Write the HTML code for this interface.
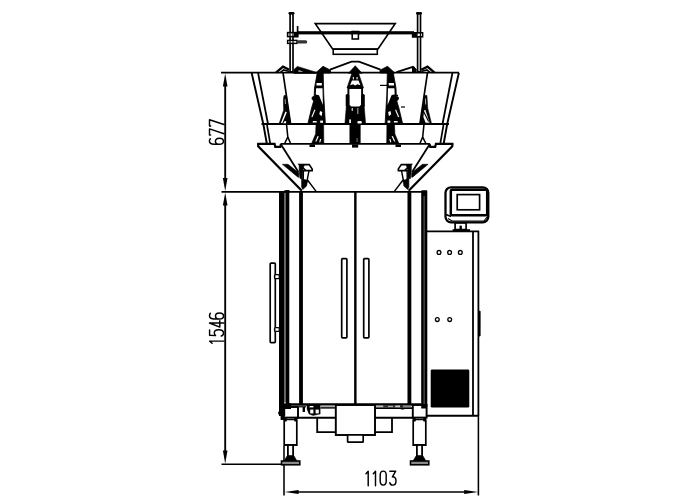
<!DOCTYPE html>
<html><head><meta charset="utf-8"><title>drawing</title>
<style>
html,body{margin:0;padding:0;background:#fff;}
body{width:700px;height:500px;overflow:hidden;font-family:"Liberation Sans",sans-serif;}
svg{display:block}
</style></head><body>
<svg width="700" height="500" viewBox="0 0 700 500">
<rect x="0" y="0" width="700" height="500" fill="#fff"/>
<g stroke="#000" fill="none" stroke-linecap="butt" stroke-linejoin="miter">
<g id="dims">
<line x1="221" y1="72.7" x2="459" y2="72.7" stroke-width="1.8" />
<line x1="221.5" y1="191.9" x2="426.5" y2="191.9" stroke-width="1.92" />
<line x1="221.5" y1="464.3" x2="283" y2="464.3" stroke-width="1.5" />
<line x1="225.2" y1="86" x2="225.2" y2="178.5" stroke-width="1.86" />
<line x1="225.2" y1="205" x2="225.2" y2="451" stroke-width="1.86" />
<path d="M225.2,73.4 L222.89999999999998,86.5 L227.5,86.5 Z" fill="#000" stroke="none"/>
<path d="M225.2,191.3 L222.89999999999998,178.0 L227.5,178.0 Z" fill="#000" stroke="none"/>
<path d="M225.2,192.5 L222.89999999999998,205.5 L227.5,205.5 Z" fill="#000" stroke="none"/>
<path d="M225.2,463.8 L222.89999999999998,450.5 L227.5,450.5 Z" fill="#000" stroke="none"/>
<line x1="284" y1="446" x2="284" y2="495.5" stroke-width="1.56" />
<line x1="478.4" y1="416" x2="478.4" y2="495.5" stroke-width="1.56" />
<line x1="297.5" y1="492" x2="465" y2="492" stroke-width="1.38" />
<path d="M284.6,492 L298.6,490.0 L298.6,494.0 Z" fill="#000" stroke="none"/>
<path d="M478.2,492 L464.2,490.0 L464.2,494.0 Z" fill="#000" stroke="none"/>
</g>
<g id="text">
<path d="M0.4,3.2 L2.6,0.8 L2.6,15.2" transform="translate(365.6,470.5)" stroke-width="1.45" stroke-linejoin="round" stroke-linecap="round"/>
<path d="M0.4,3.2 L2.6,0.8 L2.6,15.2" transform="translate(372.9,470.5)" stroke-width="1.45" stroke-linejoin="round" stroke-linecap="round"/>
<path d="M0.6,4.6 C0.6,1.6 1.8,0.6 3.6,0.6 C5.4,0.6 6.6,1.6 6.6,4.6 L6.6,10.6 C6.6,13.6 5.4,14.6 3.6,14.6 C1.8,14.6 0.6,13.6 0.6,10.6 Z" transform="translate(379.6,470.5)" stroke-width="1.45" stroke-linejoin="round" stroke-linecap="round"/>
<path d="M0.5,0.7 L6.3,0.7 L3,6.3 C5.4,6.3 6.6,7.9 6.6,10.4 C6.6,13.2 5.4,14.6 3.4,14.6 C1.8,14.6 0.8,13.8 0.4,12.3" transform="translate(389.4,470.5)" stroke-width="1.45" stroke-linejoin="round" stroke-linecap="round"/>
<path d="M6.2,1.5 C5.5,0.9 4.7,0.6 3.8,0.6 C1.7,0.6 0.6,2.2 0.6,5.4 L0.6,10.6 C0.6,13.2 1.7,14.6 3.6,14.6 C5.5,14.6 6.6,13.3 6.6,10.6 C6.6,8 5.5,6.6 3.6,6.6 C2.1,6.6 1,7.5 0.6,9" transform="translate(208.8,144.9) rotate(-90)" stroke-width="1.45" stroke-linejoin="round" stroke-linecap="round"/>
<path d="M0.6,1.9 L0.6,0.7 L6.8,0.7 L2.0,15.2" transform="translate(208.8,135.7) rotate(-90)" stroke-width="1.45" stroke-linejoin="round" stroke-linecap="round"/>
<path d="M0.6,1.9 L0.6,0.7 L6.8,0.7 L2.0,15.2" transform="translate(208.8,126.5) rotate(-90)" stroke-width="1.45" stroke-linejoin="round" stroke-linecap="round"/>
<path d="M0.4,3.2 L2.6,0.8 L2.6,15.2" transform="translate(208.9,343.7) rotate(-90)" stroke-width="1.45" stroke-linejoin="round" stroke-linecap="round"/>
<path d="M6.4,0.7 L1.2,0.7 L0.8,6.6 C1.6,5.8 2.5,5.4 3.6,5.4 C5.6,5.4 6.7,7.1 6.7,9.9 C6.7,13 5.5,14.6 3.4,14.6 C1.8,14.6 0.8,13.8 0.4,12.4" transform="translate(208.9,336.4) rotate(-90)" stroke-width="1.45" stroke-linejoin="round" stroke-linecap="round"/>
<path d="M4.5,15.2 L4.5,0.6 L0.4,10.9 L6.8,10.9" transform="translate(208.9,327.5) rotate(-90)" stroke-width="1.45" stroke-linejoin="round" stroke-linecap="round"/>
<path d="M6.2,1.5 C5.5,0.9 4.7,0.6 3.8,0.6 C1.7,0.6 0.6,2.2 0.6,5.4 L0.6,10.6 C0.6,13.2 1.7,14.6 3.6,14.6 C5.5,14.6 6.6,13.3 6.6,10.6 C6.6,8 5.5,6.6 3.6,6.6 C2.1,6.6 1,7.5 0.6,9" transform="translate(208.9,319.5) rotate(-90)" stroke-width="1.45" stroke-linejoin="round" stroke-linecap="round"/>
</g>
<g id="topframe">
<rect x="298" y="31.2" width="116" height="3.2" rx="0" stroke-width="0" fill="#000" stroke="none"/>
<path d="M315.3,23.7 L395.2,23.7 L378,49 L332.6,49 Z" stroke-width="1.68" fill="none" />
<rect x="333.2" y="49.2" width="44.1" height="5.1" rx="0" stroke-width="1.56" fill="none" />
<rect x="352.2" y="31.5" width="6.2" height="7.5" rx="0" stroke-width="1.56" fill="#fff" />
<rect x="350.8" y="31.2" width="9.0" height="3.2" rx="0" stroke-width="0" fill="#000" stroke="none"/>
<rect x="290.09999999999997" y="13.5" width="2.9" height="58.3" rx="0" stroke-width="1.68" fill="#fff" />
<rect x="288.5" y="11.9" width="6.0" height="2.7" rx="1.3" stroke-width="0" fill="#000" stroke="none"/>
<rect x="417.59999999999997" y="13.5" width="2.9" height="58.3" rx="0" stroke-width="1.68" fill="#fff" />
<rect x="416.0" y="11.9" width="6.0" height="2.7" rx="1.3" stroke-width="0" fill="#000" stroke="none"/>
<rect x="287.6" y="32.6" width="10.0" height="4.0" rx="0" stroke-width="1.56" fill="#fff" />
<line x1="290" y1="33" x2="290" y2="36.5" stroke-width="1.2" />
<line x1="293" y1="33" x2="293" y2="36.5" stroke-width="1.2" />
<line x1="297.6" y1="26" x2="297.6" y2="33" stroke-width="1.68" />
<rect x="294" y="32" width="4.4" height="5.2" rx="0" stroke-width="0" fill="#000" stroke="none"/>
<rect x="287.6" y="40.4" width="9.4" height="3.0" rx="0" stroke-width="1.44" fill="#fff" />
<line x1="290" y1="40.4" x2="290" y2="43.4" stroke-width="1.2" />
<line x1="293" y1="40.4" x2="293" y2="43.4" stroke-width="1.2" />
<rect x="297" y="40.2" width="10.2" height="3.4" rx="1.6" stroke-width="0" fill="#333" stroke="none"/>
<rect x="412.6" y="32.8" width="10.0" height="4.0" rx="0" stroke-width="1.56" fill="#fff" />
<line x1="417" y1="33" x2="417" y2="36.8" stroke-width="1.2" />
<line x1="420.4" y1="33" x2="420.4" y2="36.8" stroke-width="1.2" />
<rect x="412" y="32.2" width="4.9" height="5.2" rx="0" stroke-width="0" fill="#000" stroke="none"/>
</g>
<g id="head">
<path d="M330,69.6 L351.5,61.6 L359,61.6 L380.5,69.6" stroke-width="1.8" fill="none" />
<path d="M251.6,72.7 L263.3,124 L266.8,143.5" stroke-width="1.92" fill="none" />
<path d="M458.9,72.7 L447.2,124 L443.7,143.5" stroke-width="1.92" fill="none" />
<path d="M258,72.7 L268,124" stroke-width="1.8" fill="none" />
<path d="M452.5,72.7 L442.5,124" stroke-width="1.8" fill="none" />
<path d="M267,125 L270.2,143.5" stroke-width="1.68" fill="none" />
<path d="M443.5,125 L440.3,143.5" stroke-width="1.68" fill="none" />
<line x1="261.5" y1="124.1" x2="449.0" y2="124.1" stroke-width="2.04" />
<line x1="280.6" y1="143.9" x2="429.9" y2="143.9" stroke-width="1.92" />
<path d="M283,72.7 L290.6,124" stroke-width="1.68" fill="none" />
<path d="M427.5,72.7 L419.9,124" stroke-width="1.68" fill="none" />
<path d="M286.6,125 L287.8,137 L284.6,143.5" stroke-width="1.56" fill="none" />
<path d="M423.9,125 L422.7,137 L425.9,143.5" stroke-width="1.56" fill="none" />
<path d="M287.8,137 L290.6,143.5" stroke-width="1.56" fill="none" />
<path d="M422.7,137 L419.9,143.5" stroke-width="1.56" fill="none" />
<path d="M284,95.6 L286.5,95.6 L287.8,106 L290.6,124 L279,124 L283.7,110 L283.4,100 Z" stroke-width="0.6" fill="#000" />
<path d="M285.4,111.5 L286.8,112.2 L282.4,123 L280.9,123 Z" stroke-width="0" fill="#fff" stroke="none"/>
<path d="M284.2,121.4 L286.2,121 L286,123.2 L283.4,123.2 Z" stroke-width="0" fill="#fff" stroke="none"/>
<path d="M284.6,99 L285.6,99 L286,104 L285,104 Z" stroke-width="0" fill="#999" stroke="none"/>
<path d="M424.3,95.4 L426.9,95.4 L427.7,108 L431.6,124 L420.2,124 L422.4,108 L423.8,102 Z" stroke-width="0.6" fill="#000" />
<path d="M424.1,110.4 L425.3,109.8 L429.6,122.8 L425.6,122.8 L423.4,117 Z" stroke-width="0" fill="#fff" stroke="none"/>
<path d="M425,98.5 L426,98.5 L426.2,104.5 L425.1,104.5 Z" stroke-width="0" fill="#aaa" stroke="none"/>
<line x1="423.6" y1="111.5" x2="428.6" y2="121.5" stroke-width="1.2" />
</g>
<g id="mechs">
<path d="M276,72.6 L283,66.6 L289.3,69.8" stroke-width="2.4" fill="none" />
<path d="M434.5,72.6 L427.5,66.6 L421.2,69.8" stroke-width="2.4" fill="none" />
<path d="M280.5,72.4 L283.6,69.9 L289.3,71.4" stroke-width="1.56" fill="none" />
<path d="M430.0,72.4 L426.9,69.9 L421.2,71.4" stroke-width="1.56" fill="none" />
<path d="M294,69.6 L297.3,66.4 L316,72.2 L316,73.4 L294,73.4 Z" stroke-width="0.6" fill="#000" />
<path d="M298.2,71.6 L298.8,70.2 L303.5,71.8 Z" stroke-width="0" fill="#fff" stroke="none"/>
<path d="M396.5,72.2 L413,66.8 L416,70.5" stroke-width="1.92" fill="none" />
<path d="M412,67.4 L414,66.6 L416.6,69.6 L416.6,72.6 L412,72.6 Z" stroke-width="0" fill="#000" stroke="none"/>
<path d="M315.6,73 L323,66.3 L330.5,70.2 L330.5,73 Z" stroke-width="0.8" fill="#000" />
<path d="M394.9,73 L387.5,66.3 L380.0,70.2 L380.0,73 Z" stroke-width="0.8" fill="#000" />
<path d="M317.2,73 L323.2,73 L323.7,94 L325.4,124 L307.8,124 L311.6,108 L313.7,101 L312.1,99.2 L312.1,97.2 L314.2,96.2 L314.5,88 Z" stroke-width="0.8" fill="#000" />
<path d="M393.3,73 L387.3,73 L386.8,94 L385.1,124 L402.7,124 L398.9,108 L396.8,101 L398.4,99.2 L398.4,97.2 L396.3,96.2 L396.0,88 Z" stroke-width="0.8" fill="#000" />
<path d="M316.6,83.1 L321.8,83.1 L321.8,85.4 L316.4,85.4 Z" stroke-width="0" fill="#fff" stroke="none"/>
<path d="M393.9,83.1 L388.7,83.1 L388.7,85.4 L394.1,85.4 Z" stroke-width="0" fill="#fff" stroke="none"/>
<path d="M316.1,88.2 L322.5,88.2 L322.9,105 L319,95.2 L315.8,94.6 Z" stroke-width="0" fill="#fff" stroke="none"/>
<path d="M394.4,88.2 L388.0,88.2 L387.6,105 L391.5,95.2 L394.7,94.6 Z" stroke-width="0" fill="#fff" stroke="none"/>
<path d="M314.4,109.6 L315.4,110.1 L312.4,117.2 L311.4,116.7 Z" stroke-width="0" fill="#fff" stroke="none"/>
<path d="M396.1,109.6 L395.1,110.1 L398.1,117.2 L399.1,116.7 Z" stroke-width="0" fill="#fff" stroke="none"/>
<path d="M320,111 L322.3,112 L321.6,116.2 L319.3,114.2 Z" stroke-width="0" fill="#fff" stroke="none"/>
<path d="M390.5,111 L388.2,112 L388.9,116.2 L391.2,114.2 Z" stroke-width="0" fill="#fff" stroke="none"/>
<path d="M313,121 L316.6,121 L316.6,122.6 L312.6,122.6 Z" stroke-width="0" fill="#fff" stroke="none"/>
<path d="M397.5,121 L393.9,121 L393.9,122.6 L397.9,122.6 Z" stroke-width="0" fill="#fff" stroke="none"/>
<path d="M320.2,120.6 L323,120.6 L323,122.8 L320.2,122.8 Z" stroke-width="0" fill="#fff" stroke="none"/>
<path d="M390.3,120.6 L387.5,120.6 L387.5,122.8 L390.3,122.8 Z" stroke-width="0" fill="#fff" stroke="none"/>
<path d="M316,125 L323.6,125 L323.8,143 L311.8,143 L315.6,134 Z" stroke-width="0.6" fill="#000" />
<path d="M394.5,125 L386.9,125 L386.7,143 L398.7,143 L394.9,134 Z" stroke-width="0.6" fill="#000" />
<path d="M317.6,136 L318.8,136.4 L316.4,141.6 L315.2,141.4 Z" stroke-width="0" fill="#fff" stroke="none"/>
<path d="M392.9,136 L391.7,136.4 L394.1,141.6 L395.3,141.4 Z" stroke-width="0" fill="#fff" stroke="none"/>
<path d="M320,139 L321.2,139 L320.4,142.2 L319.2,142.2 Z" stroke-width="0" fill="#fff" stroke="none"/>
<path d="M390.5,139 L389.3,139 L390.1,142.2 L391.3,142.2 Z" stroke-width="0" fill="#fff" stroke="none"/>
<rect x="309.5" y="144.4" width="5.5" height="2.6" rx="0" stroke-width="0" fill="#000" stroke="none"/>
<rect x="395.5" y="144.4" width="5.5" height="2.6" rx="0" stroke-width="0" fill="#000" stroke="none"/>
<line x1="380" y1="85.4" x2="389" y2="85.4" stroke-width="1.2" />
<line x1="401" y1="107" x2="405" y2="107" stroke-width="1.2" />
<line x1="392.5" y1="95.5" x2="398" y2="95.5" stroke-width="1.44" />
<path d="M348.4,73.3 L355.25,65.7 L362.1,73.3 Z" stroke-width="0.6" fill="#000" />
<path d="M352,73 L358.5,73 L363.5,88 L347,88 Z" stroke-width="0.6" fill="#000" />
<rect x="352.8" y="77" width="1.2" height="2.4" rx="0" stroke-width="0" fill="#ddd" stroke="none"/>
<rect x="356.5" y="77" width="1.2" height="2.4" rx="0" stroke-width="0" fill="#ddd" stroke="none"/>
<path d="M350.1,85.3 L352,80.6 L358.5,80.6 L360.4,85.3 L357.4,84.2 L355.25,85.5 L353.1,84.2 Z" stroke-width="0" fill="#fff" stroke="none"/>
<rect x="348.4" y="88" width="13.7" height="19" rx="0" stroke-width="1.92" fill="#fff" />
<rect x="345.7" y="94" width="3.7" height="13" rx="1.5" stroke-width="0" fill="#000" stroke="none"/>
<rect x="361.1" y="94" width="3.7" height="13" rx="1.5" stroke-width="0" fill="#000" stroke="none"/>
<path d="M346.4,105.5 L364.1,105.5 L365.6,124 L344.9,124 Z" stroke-width="0.6" fill="#000" />
<rect x="350.4" y="103" width="9.7" height="3.4" rx="1.2" stroke-width="0" fill="#fff" stroke="none"/>
<rect x="351.6" y="108" width="1.4" height="3" rx="0" stroke-width="0" fill="#bbb" stroke="none"/>
<rect x="357.2" y="108" width="1.2" height="6" rx="0" stroke-width="0" fill="#999" stroke="none"/>
<rect x="349.2" y="119.4" width="1.8" height="3.6" rx="0" stroke-width="0" fill="#eee" stroke="none"/>
<rect x="357.4" y="121" width="4.4" height="2.6" rx="1.2" stroke-width="0" fill="#fff" stroke="none"/>
<rect x="349.5" y="125" width="11.1" height="19" rx="0" stroke-width="0" fill="#000" stroke="none"/>
<rect x="356.6" y="138" width="1.0" height="4" rx="0" stroke-width="0" fill="#777" stroke="none"/>
<rect x="352" y="144.4" width="6.2" height="3.2" rx="0" stroke-width="0" fill="#000" stroke="none"/>
</g>
<g id="cone">
<path d="M258.2,143.2 L258.2,146.4 L301.8,190.8" stroke-width="2.22" fill="none" />
<path d="M452.3,143.2 L452.3,146.4 L408.7,190.8" stroke-width="2.22" fill="none" />
<path d="M281,144.6 L298.4,172" stroke-width="1.8" fill="none" />
<path d="M429.5,144.6 L412.1,172" stroke-width="1.8" fill="none" />
<path d="M307.5,180 L316.3,191.6" stroke-width="1.44" fill="none" />
<path d="M403.0,180 L394.2,191.6" stroke-width="1.44" fill="none" />
<path d="M257.2,143.9 L274.6,143.9 L275.3,146.9 L280.3,146.9 L280.9,143.9" stroke-width="2.16" fill="none" />
<path d="M453.3,143.9 L435.9,143.9 L435.2,146.9 L430.2,146.9 L429.6,143.9" stroke-width="2.16" fill="none" />
<path d="M282.4,164.3 L288,164.3 L298.8,172.8 L298.8,177.2 L298,177.2 Z" stroke-width="0.6" fill="#000" />
<path d="M428.1,164.3 L422.5,164.3 L411.7,172.8 L411.7,177.2 L412.5,177.2 Z" stroke-width="0.6" fill="#000" />
<path d="M299.4,164.6 L309.2,164.6 L312.2,169 L312.2,170.6 L306,170.6 Z" stroke-width="1.56" fill="#fff" />
<path d="M411.1,164.6 L401.3,164.6 L398.3,169 L398.3,170.6 L404.5,170.6 Z" stroke-width="1.56" fill="#fff" />
<path d="M299.2,164.4 L304.6,164.4 L303,168.5 L302.4,178.5 L300,178.5 L299.2,170 Z" stroke-width="0.6" fill="#000" />
<path d="M411.3,164.4 L405.9,164.4 L407.5,168.5 L408.1,178.5 L410.5,178.5 L411.3,170 Z" stroke-width="0.6" fill="#000" />
<path d="M306.4,166.4 L309,166.4 L310.6,168.8 L307,168.8 L305.4,167.6 Z" stroke-width="0" fill="#fff" stroke="none"/>
<path d="M404.1,166.4 L401.5,166.4 L399.9,168.8 L403.5,168.8 L405.1,167.6 Z" stroke-width="0" fill="#fff" stroke="none"/>
<path d="M303.4,170.8 L309,170.8 L307,181 L303.2,180.6 Z" stroke-width="1.44" fill="#fff" />
<path d="M407.1,170.8 L401.5,170.8 L403.5,181 L407.3,180.6 Z" stroke-width="1.44" fill="#fff" />
<path d="M301.6,178.6 L307.6,180.6 L306.6,186 L302.8,189.4 L301.6,187 Z" stroke-width="0.6" fill="#000" />
<path d="M408.9,178.6 L402.9,180.6 L403.9,186 L407.7,189.4 L408.9,187 Z" stroke-width="0.6" fill="#000" />
</g>
<g id="cabinet">
<rect x="279" y="192" width="5.1" height="222" rx="0" stroke-width="0" fill="#000" stroke="none"/>
<rect x="284.1" y="192" width="1.7" height="210.5" rx="0" stroke-width="0" fill="#5a5a5a" stroke="none"/>
<rect x="285.8" y="190.2" width="3.5" height="215.3" rx="0" stroke-width="0" fill="#000" stroke="none"/>
<rect x="284" y="190.2" width="5.6" height="2.8" rx="0.8" stroke-width="0" fill="#000" stroke="none"/>
<line x1="301" y1="191" x2="301" y2="405" stroke-width="3.84" />
<line x1="409.4" y1="191" x2="409.4" y2="405" stroke-width="3.84" />
<line x1="355.35" y1="192" x2="355.35" y2="404" stroke-width="2.46" />
<rect x="421.2" y="190.2" width="6.1" height="216.8" rx="0.8" stroke-width="0" fill="#000" stroke="none"/>
<rect x="423.6" y="196" width="1.0" height="208" rx="0" stroke-width="0" fill="#666" stroke="none"/>
<rect x="341.7" y="258.7" width="5.2" height="79.1" rx="0.9" stroke-width="1.68" fill="#fff" />
<rect x="363.7" y="258.7" width="5.2" height="79.1" rx="0.9" stroke-width="1.68" fill="#fff" />
<rect x="270.2" y="263.2" width="5.1" height="79.4" rx="0.9" stroke-width="1.68" fill="#fff" />
<rect x="274.6" y="274.6" width="4.8" height="4.0" rx="1.2" stroke-width="1.44" fill="#fff" />
<rect x="274.6" y="327.6" width="4.8" height="3.8" rx="1.2" stroke-width="1.44" fill="#fff" />
<line x1="288" y1="404.4" x2="421.5" y2="404.4" stroke-width="2.52" />
</g>
<g id="ctrl">
<line x1="426.5" y1="231.4" x2="479" y2="231.4" stroke-width="1.92" />
<line x1="473" y1="231" x2="473" y2="416" stroke-width="1.8" />
<line x1="478.4" y1="231" x2="478.4" y2="416" stroke-width="1.8" />
<line x1="426.5" y1="415.8" x2="479" y2="415.8" stroke-width="1.92" />
<rect x="478.4" y="310.8" width="2.2" height="25.6" rx="0.8" stroke-width="0" fill="#000" stroke="none"/>
<circle cx="439" cy="252.4" r="1.9" stroke-width="1.3" fill="#fff"/>
<circle cx="449.6" cy="252.4" r="1.9" stroke-width="1.3" fill="#fff"/>
<circle cx="460.3" cy="252.4" r="1.9" stroke-width="1.3" fill="#fff"/>
<circle cx="437.3" cy="319.6" r="1.9" stroke-width="1.3" fill="#fff"/>
<circle cx="449.7" cy="319.6" r="1.9" stroke-width="1.3" fill="#fff"/>
<rect x="430.7" y="369.6" width="38.6" height="37.8" rx="1.2" stroke-width="0" fill="#000" stroke="none"/>
<rect x="445.5" y="187.3" width="42.8" height="35.0" rx="5.5" stroke-width="2.28" fill="#fff" />
<rect x="450.8" y="189.8" width="36.4" height="25.4" rx="1.5" stroke-width="2.52" fill="#fff" />
<rect x="457.2" y="194.6" width="22.4" height="15.2" rx="0" stroke-width="1.68" fill="#fff" />
<line x1="446" y1="214.5" x2="451" y2="216.5" stroke-width="1.56" />
<path d="M448,218.5 L452,221 L484,221 L487.5,216.5" stroke-width="1.2" fill="none" />
<rect x="455.1" y="223" width="11.0" height="6.6" rx="0" stroke-width="1.68" fill="#fff" />
<rect x="459.5" y="225.6" width="2.4" height="4.0" rx="0.8" stroke-width="0" fill="#000" stroke="none"/>
<rect x="452.6" y="229.2" width="17.4" height="2.2" rx="0" stroke-width="0" fill="#000" stroke="none"/>
</g>
<g id="base">
<rect x="283.6" y="407" width="14.4" height="10.6" rx="0" stroke-width="1.92" fill="#fff" />
<rect x="279" y="404" width="6.2" height="12" rx="0" stroke-width="0" fill="#000" stroke="none"/>
<rect x="283" y="403.4" width="8" height="5.6" rx="0" stroke-width="0" fill="#000" stroke="none"/>
<rect x="280.6" y="413" width="3.8" height="7" rx="0" stroke-width="0" fill="#000" stroke="none"/>
<rect x="278.2" y="411.6" width="5.8" height="3.0" rx="0.8" stroke-width="0" fill="#000" stroke="none"/>
<rect x="412.8" y="405" width="13.8" height="12.6" rx="0" stroke-width="1.92" fill="#fff" />
<rect x="421.2" y="404" width="5.6" height="4.5" rx="0" stroke-width="0" fill="#000" stroke="none"/>
<line x1="297" y1="417.8" x2="336" y2="417.8" stroke-width="1.92" />
<line x1="375" y1="417.8" x2="413" y2="417.8" stroke-width="1.92" />
<path d="M317.2,418 L317.2,432.2 L336,432.2" stroke-width="1.8" fill="none" />
<path d="M392,418 L392,432.2 L375,432.2" stroke-width="1.8" fill="none" />
<rect x="335.8" y="405" width="39.2" height="30" rx="0" stroke-width="1.92" fill="#fff" />
<rect x="347.6" y="435" width="15.6" height="7.2" rx="0.8" stroke-width="1.68" fill="#fff" />
<rect x="302.6" y="407" width="2.4" height="5" rx="0" stroke-width="0" fill="#000" stroke="none"/>
<line x1="299" y1="406.8" x2="306" y2="406.8" stroke-width="1.2" />
<path d="M307,405 L320.2,405 L320.2,414 L313,415.6 L309,414 L307,409 Z" stroke-width="0.4" fill="#000" />
<rect x="310.2" y="409.6" width="3.2" height="3.8" rx="0" stroke-width="0" fill="#fff" stroke="none"/>
<rect x="315.6" y="409.6" width="3.2" height="3.8" rx="0" stroke-width="0" fill="#fff" stroke="none"/>
<rect x="309.6" y="406" width="3.8" height="1.4" rx="0" stroke-width="0" fill="#fff" stroke="none"/>
<rect x="320.6" y="405.4" width="14.4" height="1.9" rx="0" stroke-width="0" fill="#aaa" stroke="none"/>
<line x1="320.4" y1="407.9" x2="336" y2="407.9" stroke-width="1.44" />
<line x1="375" y1="408.1" x2="412.8" y2="408.1" stroke-width="1.8" />
<rect x="376" y="405.5" width="7.2" height="1.7" rx="0" stroke-width="0" fill="#bbb" stroke="none"/>
<rect x="383.2" y="405.5" width="4.8" height="1.7" rx="0" stroke-width="0" fill="#333" stroke="none"/>
<rect x="388" y="405.9" width="5" height="0.9" rx="0" stroke-width="0" fill="#999" stroke="none"/>
<rect x="393" y="405.5" width="2.5" height="1.7" rx="0" stroke-width="0" fill="#333" stroke="none"/>
<rect x="395.5" y="405.5" width="4.5" height="1.7" rx="0" stroke-width="0" fill="#ccc" stroke="none"/>
<rect x="400" y="405.5" width="3" height="1.7" rx="0" stroke-width="0" fill="#222" stroke="none"/>
<rect x="403" y="405.5" width="8" height="1.7" rx="0" stroke-width="0" fill="#888" stroke="none"/>
<rect x="400.6" y="408" width="3.8" height="1.6" rx="0.8" stroke-width="0" fill="#000" stroke="none"/>
<path d="M284.2,446 L284.2,421.5 Q284.2,419.5 286.2,419.5 L294.8,419.5 Q296.8,419.5 296.8,421.5 L296.8,446" stroke-width="1.7" fill="#fff"/>
<rect x="283.59999999999997" y="418" width="3.2" height="3.4" rx="0.6" stroke-width="0" fill="#000" stroke="none"/>
<rect x="294.2" y="418" width="3.2" height="3.4" rx="0.6" stroke-width="0" fill="#000" stroke="none"/>
<line x1="284.2" y1="445" x2="296.8" y2="445" stroke-width="1.92" />
<rect x="287.9" y="445" width="5.2" height="12" rx="0" stroke-width="1.8" fill="#fff" />
<path d="M287.3,455.6 L293.7,455.6 L297.0,461 L284.0,461 Z" stroke-width="0.6" fill="#000" />
<rect x="281.5" y="461" width="18.3" height="3.8" rx="0" stroke-width="1.56" fill="#888" />
<path d="M413.2,446 L413.2,421.5 Q413.2,419.5 415.2,419.5 L423.8,419.5 Q425.8,419.5 425.8,421.5 L425.8,446" stroke-width="1.7" fill="#fff"/>
<rect x="412.59999999999997" y="418" width="3.2" height="3.4" rx="0.6" stroke-width="0" fill="#000" stroke="none"/>
<rect x="423.2" y="418" width="3.2" height="3.4" rx="0.6" stroke-width="0" fill="#000" stroke="none"/>
<line x1="413.2" y1="445" x2="425.8" y2="445" stroke-width="1.92" />
<rect x="416.9" y="445" width="5.2" height="12" rx="0" stroke-width="1.8" fill="#fff" />
<path d="M416.3,455.6 L422.7,455.6 L426.0,461 L413.0,461 Z" stroke-width="0.6" fill="#000" />
<rect x="410.5" y="461" width="18.3" height="3.8" rx="0" stroke-width="1.56" fill="#888" />
</g>
</g>
</svg>
</body></html>
